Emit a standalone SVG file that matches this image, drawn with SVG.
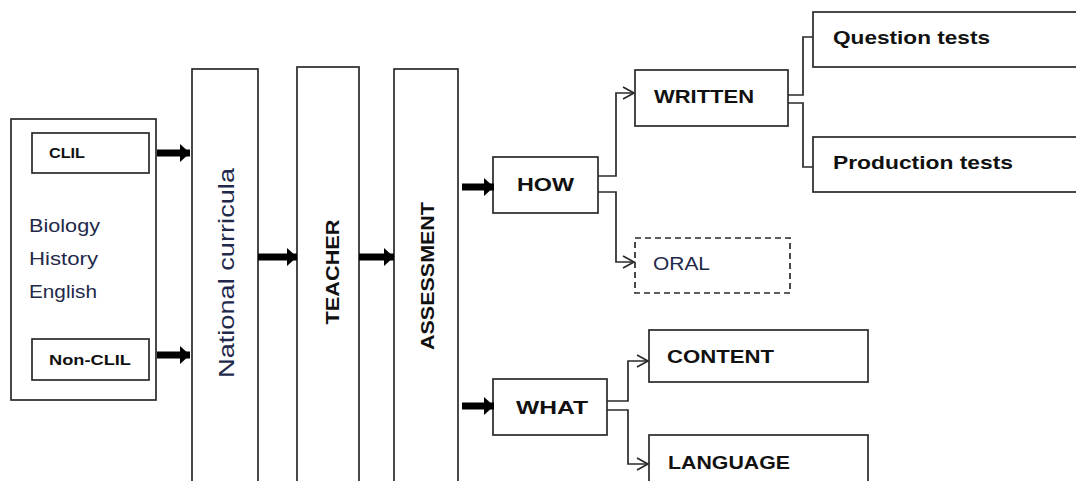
<svg xmlns="http://www.w3.org/2000/svg" width="1076" height="481" viewBox="0 0 1076 481">
<defs>
<style>
.box{fill:#fff;stroke:#2a2a2a;stroke-width:1.7}
.dash{fill:#fff;stroke:#2a2a2a;stroke-width:1.7;stroke-dasharray:6,4}
.b{font-family:"Liberation Sans",Arial,sans-serif;font-weight:bold;fill:#111}
.r{font-family:"Liberation Sans",Arial,sans-serif;fill:#22284a}
.thick{stroke:#000;stroke-width:7;fill:none}
.thin{stroke:#2a2a2a;stroke-width:1.7;fill:none}
</style>
<marker id="big" markerUnits="userSpaceOnUse" markerWidth="12" markerHeight="18" refX="10" refY="9" orient="auto">
<path d="M0,0 L10,9 L0,18 Z" fill="#000"/>
</marker>
<marker id="open" markerUnits="userSpaceOnUse" markerWidth="14" markerHeight="14" refX="12" refY="7" orient="auto">
<path d="M1,1 L12,7 L1,13" fill="none" stroke="#2a2a2a" stroke-width="1.7"/>
</marker>
</defs>
<rect width="1076" height="481" fill="#fff"/>
<g id="subjects">
<rect class="box" x="11" y="119" width="145" height="281"/>
<text class="r" x="29" y="232" font-size="18" textLength="71" lengthAdjust="spacingAndGlyphs">Biology</text>
<text class="r" x="29" y="265" font-size="18" textLength="69" lengthAdjust="spacingAndGlyphs">History</text>
<text class="r" x="29" y="298" font-size="18" textLength="68" lengthAdjust="spacingAndGlyphs">English</text>
</g>
<g id="clil">
<rect class="box" x="32" y="133" width="117" height="40"/>
<text class="b" x="49" y="158" font-size="14" textLength="36" lengthAdjust="spacingAndGlyphs">CLIL</text>
</g>
<g id="nonclil">
<rect class="box" x="32" y="339" width="117" height="41"/>
<text class="b" x="49" y="365" font-size="14" textLength="82" lengthAdjust="spacingAndGlyphs">Non-CLIL</text>
</g>
<g id="national">
<rect class="box" x="192" y="69" width="66" height="430"/>
<text class="r" transform="translate(234,273) rotate(-90)" text-anchor="middle" font-size="22" textLength="210" lengthAdjust="spacingAndGlyphs">National curricula</text>
</g>
<g id="teacher">
<rect class="box" x="297" y="67" width="62" height="430"/>
<text class="b" transform="translate(339,272) rotate(-90)" text-anchor="middle" font-size="19" textLength="105" lengthAdjust="spacingAndGlyphs">TEACHER</text>
</g>
<g id="assessment">
<rect class="box" x="394" y="69" width="64" height="430"/>
<text class="b" transform="translate(434,276) rotate(-90)" text-anchor="middle" font-size="19" textLength="148" lengthAdjust="spacingAndGlyphs">ASSESSMENT</text>
</g>
<g id="how">
<rect class="box" x="493" y="157" width="105" height="56"/>
<text class="b" x="517" y="191" font-size="19" textLength="57" lengthAdjust="spacingAndGlyphs">HOW</text>
</g>
<g id="written">
<rect class="box" x="635" y="70" width="153" height="56"/>
<text class="b" x="654" y="103" font-size="19" textLength="100" lengthAdjust="spacingAndGlyphs">WRITTEN</text>
</g>
<g id="oral">
<rect class="dash" x="635" y="238" width="155" height="55"/>
<text class="r" x="653" y="270" font-size="19" textLength="57" lengthAdjust="spacingAndGlyphs">ORAL</text>
</g>
<g id="question">
<rect class="box" x="813" y="12" width="275" height="55"/>
<text class="b" x="833" y="44" font-size="19" textLength="157" lengthAdjust="spacingAndGlyphs">Question tests</text>
</g>
<g id="production">
<rect class="box" x="813" y="137" width="275" height="55"/>
<text class="b" x="833" y="169" font-size="19" textLength="180" lengthAdjust="spacingAndGlyphs">Production tests</text>
</g>
<g id="what">
<rect class="box" x="493" y="379" width="114" height="56"/>
<text class="b" x="516" y="414" font-size="19" textLength="72" lengthAdjust="spacingAndGlyphs">WHAT</text>
</g>
<g id="content">
<rect class="box" x="649" y="330" width="219" height="52"/>
<text class="b" x="667" y="363" font-size="19" textLength="107" lengthAdjust="spacingAndGlyphs">CONTENT</text>
</g>
<g id="language">
<rect class="box" x="649" y="435" width="219" height="60"/>
<text class="b" x="668" y="469" font-size="19" textLength="122" lengthAdjust="spacingAndGlyphs">LANGUAGE</text>
</g>
<g id="connectors">
<line class="thick" x1="157" y1="153" x2="190" y2="153" marker-end="url(#big)"/>
<line class="thick" x1="157" y1="355" x2="190" y2="355" marker-end="url(#big)"/>
<line class="thick" x1="258" y1="257" x2="297" y2="257" marker-end="url(#big)"/>
<line class="thick" x1="359" y1="257" x2="394" y2="257" marker-end="url(#big)"/>
<line class="thick" x1="462" y1="187" x2="494" y2="187" marker-end="url(#big)"/>
<line class="thick" x1="462" y1="406" x2="494" y2="406" marker-end="url(#big)"/>
<polyline class="thin" points="598,176 616,176 616,93 634,93" marker-end="url(#open)"/>
<polyline class="thin" points="598,192 616,192 616,262 634,262" marker-end="url(#open)"/>
<polyline class="thin" points="788,95 803,95 803,37 813,37"/>
<polyline class="thin" points="788,103 803,103 803,167 813,167"/>
<polyline class="thin" points="607,401 628,401 628,361 648,361" marker-end="url(#open)"/>
<polyline class="thin" points="607,410 628,410 628,464 648,464" marker-end="url(#open)"/>
</g>
</svg>
